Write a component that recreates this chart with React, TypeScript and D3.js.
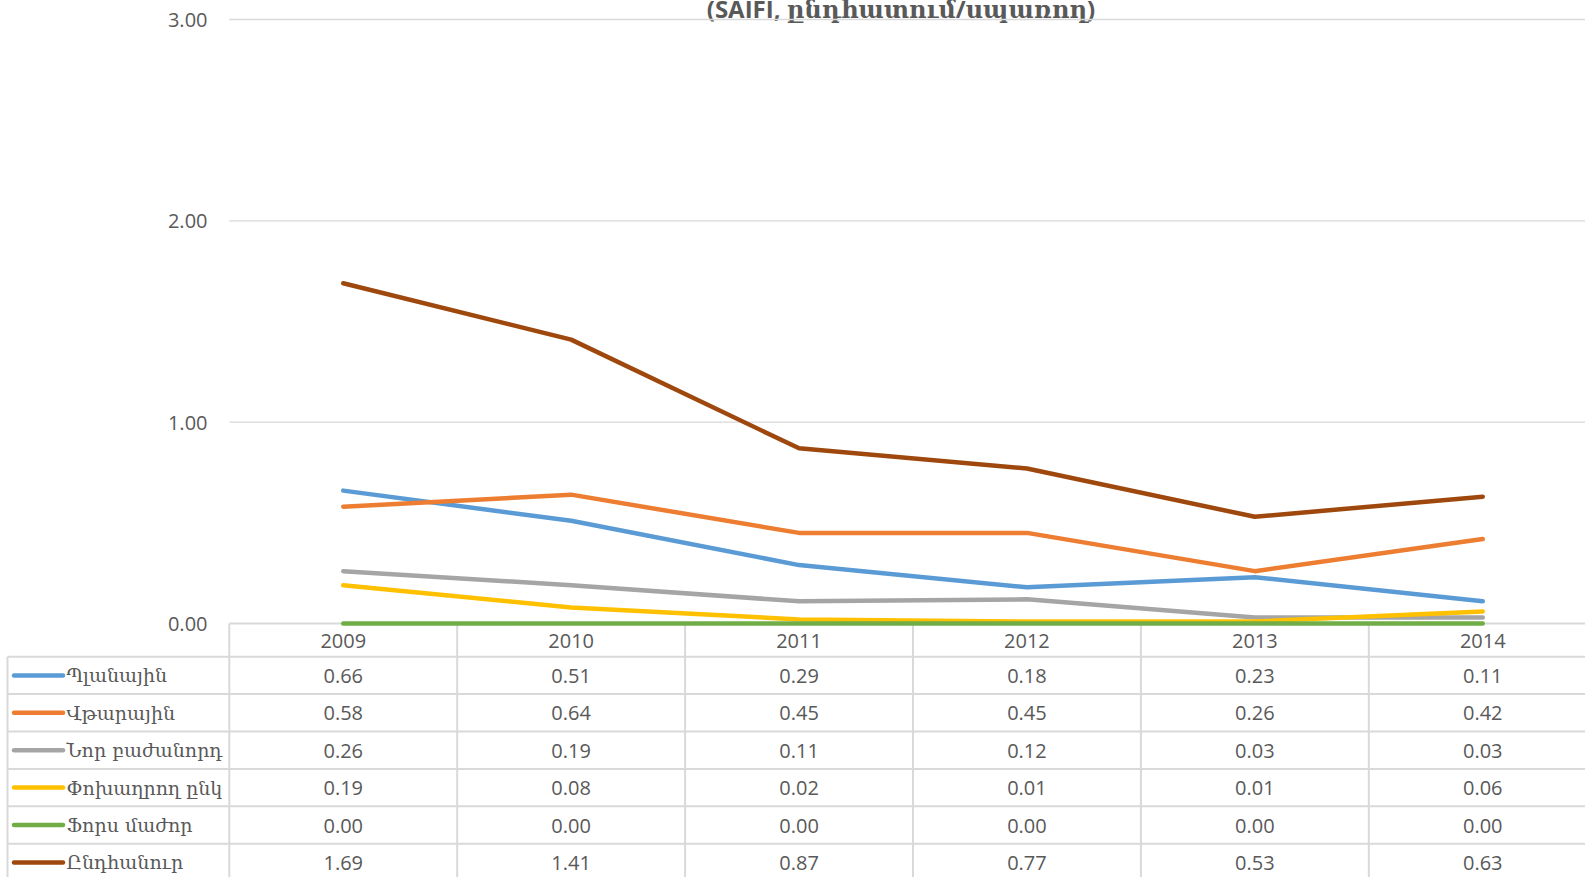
import React from "react";
import * as d3 from "d3";

const years = ["2009", "2010", "2011", "2012", "2013", "2014"];
const seriesNames = ["Պլանային", "Վթարային", "Նոր բաժանորդ", "Փոխաղրող ընկ", "Ֆորս մաժոր", "Ընդհանուր"];
const planned = [0.66, 0.51, 0.29, 0.18, 0.23, 0.11];
const emergency = [0.58, 0.64, 0.45, 0.45, 0.26, 0.42];
const newSubscriber = [0.26, 0.19, 0.11, 0.12, 0.03, 0.03];
const transmission = [0.19, 0.08, 0.02, 0.01, 0.01, 0.06];
const forceMajeure = [0.0, 0.0, 0.0, 0.0, 0.0, 0.0];
const total = [1.69, 1.41, 0.87, 0.77, 0.53, 0.63];
const yTicks = [0, 1, 2, 3];
const colors = ["#5B9BD5", "#ED7D31", "#A5A5A5", "#FFC000", "#70AD47", "#9E480E"];
const titleText = "(SAIFI, ընդհատում/սպառող)";

const seriesValues = [planned, emergency, newSubscriber, transmission, forceMajeure, total];

export default function App() {
  const W = 1585, H = 877;
  const left = 229.3, colW = 227.9;
  const x = d3.scaleBand().domain(years).range([left, left + colW * years.length]);
  const y = d3.scaleLinear().domain([0, 3]).range([623.5, 19.5]);
  const fmt = d3.format(".2f");
  const line = d3.line<number>()
    .x((_, i) => (x(years[i]) as number) + x.bandwidth() / 2)
    .y((d) => y(d));
  const headerBottom = 656.7;
  const rowH = 37.4;
  const grid = "#D9D9D9";
  const txt = "#595959";
  const font = "'Open Sans', 'DejaVu Serif', sans-serif";
  const armFont = "'DejaVu Serif', serif";
  const right = W;
  return (
    <svg width={W} height={H} style={{ position: "absolute", left: 0, top: 0, background: "#fff" }}>
      <rect width={W} height={H} fill="#fff" />
      <text x={901} y={18} textAnchor="middle" fontFamily={font} fontWeight="bold" fontSize={24} fill={txt}>{titleText}</text>
      {yTicks.map((t) => (
        <g key={t}>
          <line x1={left} x2={right} y1={y(t)} y2={y(t)} stroke={grid} strokeWidth={t === 0 ? 2 : 1.3} />
          <text x={207.5} y={y(t)} textAnchor="end" dominantBaseline="central" fontFamily={font} fontSize={20} fill={txt}>{fmt(t)}</text>
        </g>
      ))}
      {years.map((yr, i) => (
        <line key={"v" + yr} x1={left + colW * i} x2={left + colW * i} y1={y(0)} y2={H} stroke={grid} strokeWidth={2} />
      ))}
      <line x1={left + colW * years.length} x2={left + colW * years.length} y1={y(0)} y2={H} stroke={grid} strokeWidth={2} />
      <line x1={7.5} x2={7.5} y1={headerBottom} y2={H} stroke={grid} strokeWidth={2} />
      {seriesNames.map((_, r) => (
        <line key={"h" + r} x1={7.5} x2={right} y1={headerBottom + rowH * r} y2={headerBottom + rowH * r} stroke={grid} strokeWidth={2} />
      ))}
      {years.map((yr) => (
        <text key={"c" + yr} x={(x(yr) as number) + x.bandwidth() / 2} y={(y(0) + headerBottom) / 2 + 0.5} textAnchor="middle" dominantBaseline="central" fontFamily={font} fontSize={20} fill={txt}>{yr}</text>
      ))}
      {seriesNames.map((name, r) => {
        const cy = headerBottom + rowH * r + rowH / 2;
        return (
          <g key={"r" + r}>
            <line x1={14} x2={63} y1={cy} y2={cy} stroke={colors[r]} strokeWidth={4.5} strokeLinecap="round" />
            <text x={66.5} y={cy} dominantBaseline="central" fontFamily={armFont} fontSize={19} fill={txt}>{name}</text>
            {seriesValues[r].map((v, i) => (
              <text key={i} x={(x(years[i]) as number) + x.bandwidth() / 2} y={cy} textAnchor="middle" dominantBaseline="central" fontFamily={font} fontSize={20} fill={txt}>{fmt(v)}</text>
            ))}
          </g>
        );
      })}
      {seriesValues.map((vals, s) => (
        <path key={"p" + s} d={line(vals) || ""} fill="none" stroke={colors[s]} strokeWidth={4.5} strokeLinecap="round" strokeLinejoin="round" />
      ))}
    </svg>
  );
}
